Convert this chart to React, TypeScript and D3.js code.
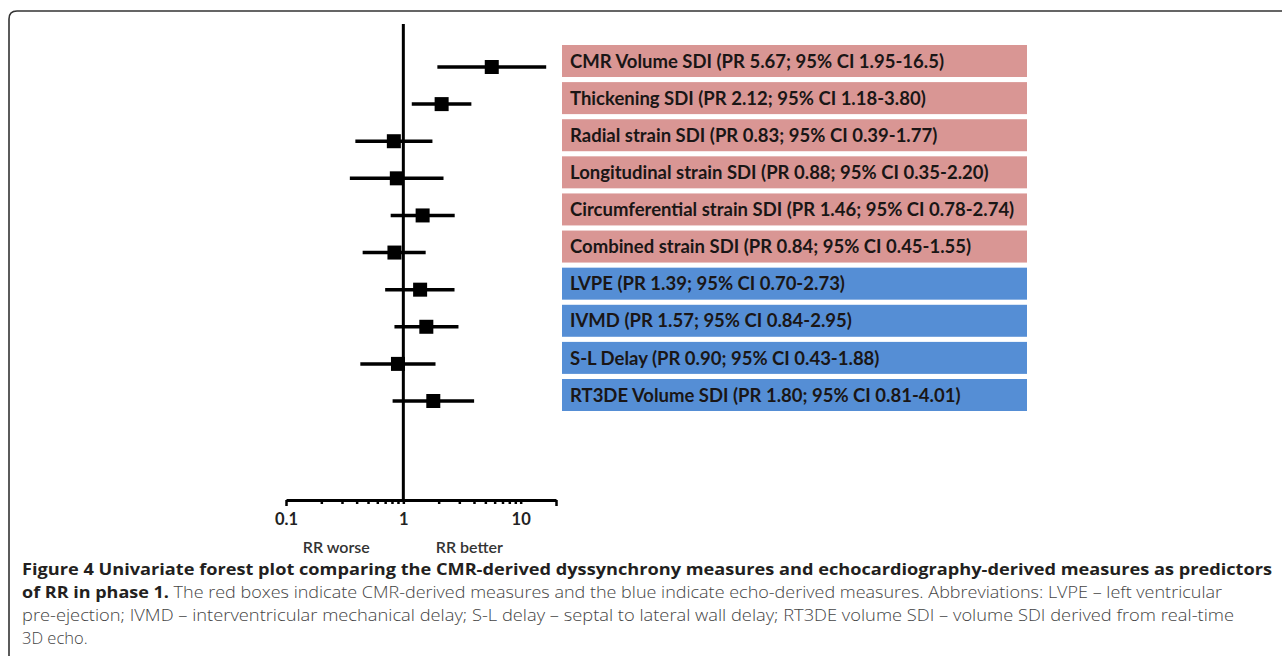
import { useEffect, useRef } from 'react';
import * as d3 from 'd3';

// forest plot rows (top to bottom)
const labels = [
  'CMR Volume SDI (PR 5.67; 95% CI 1.95-16.5)',
  'Thickening SDI (PR 2.12; 95% CI 1.18-3.80)',
  'Radial strain SDI (PR 0.83; 95% CI 0.39-1.77)',
  'Longitudinal strain SDI (PR 0.88; 95% CI 0.35-2.20)',
  'Circumferential strain SDI (PR 1.46; 95% CI 0.78-2.74)',
  'Combined strain SDI (PR 0.84; 95% CI 0.45-1.55)',
  'LVPE (PR 1.39; 95% CI 0.70-2.73)',
  'IVMD (PR 1.57; 95% CI 0.84-2.95)',
  'S-L Delay (PR 0.90; 95% CI 0.43-1.88)',
  'RT3DE Volume SDI (PR 1.80; 95% CI 0.81-4.01)',
];
const estimates = [5.67, 2.12, 0.83, 0.88, 1.46, 0.84, 1.39, 1.57, 0.9, 1.8];
const lower = [1.95, 1.18, 0.39, 0.35, 0.78, 0.45, 0.7, 0.84, 0.43, 0.81];
const upper = [16.5, 3.8, 1.77, 2.2, 2.74, 1.55, 2.73, 2.95, 1.88, 4.01];
const source = ['CMR', 'CMR', 'CMR', 'CMR', 'CMR', 'CMR', 'Echo', 'Echo', 'Echo', 'Echo'];

const tickLabels = ['0.1', '1', '10'];
const tickValues = [0.1, 0.2, 0.3, 0.4, 0.5, 0.6, 0.7, 0.8, 0.9, 1, 2, 3, 4, 5, 6, 7, 8, 9, 10, 20];

const captionBold1 = 'Figure 4 Univariate forest plot comparing the CMR-derived dyssynchrony measures and echocardiography-derived measures as predictors';
const captionBold2 = 'of RR in phase 1.';
const captionLines = [
  ' The red boxes indicate CMR-derived measures and the blue indicate echo-derived measures. Abbreviations: LVPE \u2013 left ventricular',
  'pre-ejection; IVMD \u2013 interventricular mechanical delay; S-L delay \u2013 septal to lateral wall delay; RT3DE volume SDI \u2013 volume SDI derived from real-time',
  '3D echo.',
];

const colors = { CMR: '#d99694', Echo: '#558ed5' };

export default function App() {
  const ref = useRef<SVGSVGElement>(null);

  useEffect(() => {
    const svg = d3.select(ref.current);
    svg.selectAll('*').remove();

    const axisY = 500;
    const x = d3.scaleLog().domain([0.1, 20]).range([286, 556]);
    const y = d3.scalePoint<string>().domain(labels).range([67, 401]);
    const rows = labels.map((l, i) => ({ l, est: estimates[i], lo: lower[i], hi: upper[i], src: source[i] }));

    // frame
    svg.append('path')
      .attr('d', 'M9,700 L9,19 Q9,11 17,11 L1290,11')
      .attr('fill', 'none')
      .attr('stroke', '#333')
      .attr('stroke-width', 1.6);

    // label boxes
    const boxX = 562, boxW = 465, boxH = 32;
    const g = svg.append('g');
    g.selectAll('rect.box')
      .data(rows)
      .enter().append('rect')
      .attr('class', 'box')
      .attr('x', boxX)
      .attr('y', d => (y(d.l) as number) - 6 - boxH / 2)
      .attr('width', boxW)
      .attr('height', boxH)
      .attr('fill', d => colors[d.src as 'CMR' | 'Echo']);
    g.selectAll('text.lab')
      .data(rows)
      .enter().append('text')
      .attr('class', 'lab')
      .attr('x', boxX + 8)
      .attr('y', d => (y(d.l) as number) - 6)
      .attr('dy', '0.36em')
      .attr('font-family', 'Lato, "Open Sans", sans-serif')
      .attr('font-weight', 700)
      .attr('font-size', 18.5)
      .attr('fill', '#1a1616')
      .text(d => d.l);

    // x axis
    const axis = svg.append('g')
      .attr('transform', `translate(0,${axisY})`)
      .call(d3.axisBottom(x).tickValues(tickValues).tickSize(4).tickSizeOuter(0)
        .tickFormat(d => (tickLabels.includes(String(+d)) ? String(+d) : '')));
    axis.select('.domain').attr('stroke', '#000').attr('stroke-width', 3);
    axis.selectAll('.tick line').attr('stroke', '#000').attr('stroke-width', 2.5)
      .attr('y2', (d: any) => (d === 0.1 || d === 20 ? 6 : 4));
    axis.selectAll('.tick text')
      .attr('y', 25)
      .attr('dy', 0)
      .attr('font-family', 'Lato, "Open Sans", sans-serif')
      .attr('font-weight', 700)
      .attr('font-size', 16.5)
      .attr('fill', '#222');

    // line of no effect
    svg.append('line')
      .attr('x1', x(1)).attr('x2', x(1))
      .attr('y1', 24).attr('y2', axisY)
      .attr('stroke', '#000').attr('stroke-width', 3);

    // CIs
    svg.selectAll('line.ci')
      .data(rows)
      .enter().append('line')
      .attr('class', 'ci')
      .attr('x1', d => x(d.lo)).attr('x2', d => x(d.hi))
      .attr('y1', d => y(d.l) as number).attr('y2', d => y(d.l) as number)
      .attr('stroke', '#000').attr('stroke-width', 3.5);
    svg.selectAll('rect.pt')
      .data(rows)
      .enter().append('rect')
      .attr('class', 'pt')
      .attr('x', d => x(d.est) - 7)
      .attr('y', d => (y(d.l) as number) - 7)
      .attr('width', 14).attr('height', 14)
      .attr('fill', '#000');

    // RR worse / better, either side of the line of no effect
    svg.selectAll('text.rr')
      .data([{ t: 'RR worse', dx: -67 }, { t: 'RR better', dx: 66 }])
      .enter().append('text')
      .attr('class', 'rr')
      .attr('x', d => x(1) + d.dx)
      .attr('y', axisY + 53)
      .attr('text-anchor', 'middle')
      .attr('font-family', 'Lato, "Open Sans", sans-serif')
      .attr('font-weight', 600)
      .attr('font-size', 16)
      .attr('fill', '#333')
      .text(d => d.t);

    // caption
    const cap = svg.append('g').attr('font-family', '"Open Sans", sans-serif').attr('font-size', 16.5);
    cap.append('text')
      .attr('x', 22).attr('y', 575)
      .attr('font-weight', 700).attr('fill', '#231f20')
      .attr('textLength', 1250).attr('lengthAdjust', 'spacingAndGlyphs')
      .text(captionBold1);
    const l2 = cap.append('text').attr('x', 22).attr('y', 598)
      .attr('textLength', 1200).attr('lengthAdjust', 'spacingAndGlyphs');
    l2.append('tspan').attr('font-weight', 700).attr('fill', '#231f20').text(captionBold2);
    l2.append('tspan').attr('fill', '#444').attr('font-weight', 300).text(captionLines[0]);
    cap.append('text')
      .attr('x', 22).attr('y', 621).attr('fill', '#444').attr('font-weight', 300)
      .attr('textLength', 1212).attr('lengthAdjust', 'spacingAndGlyphs')
      .text(captionLines[1]);
    cap.append('text')
      .attr('x', 22).attr('y', 644).attr('fill', '#444').attr('font-weight', 300)
      .text(captionLines[2]);
  }, []);

  return (
    <svg ref={ref} width={1282} height={656}
      style={{ position: 'absolute', left: 0, top: 0, background: '#fff' }} />
  );
}
